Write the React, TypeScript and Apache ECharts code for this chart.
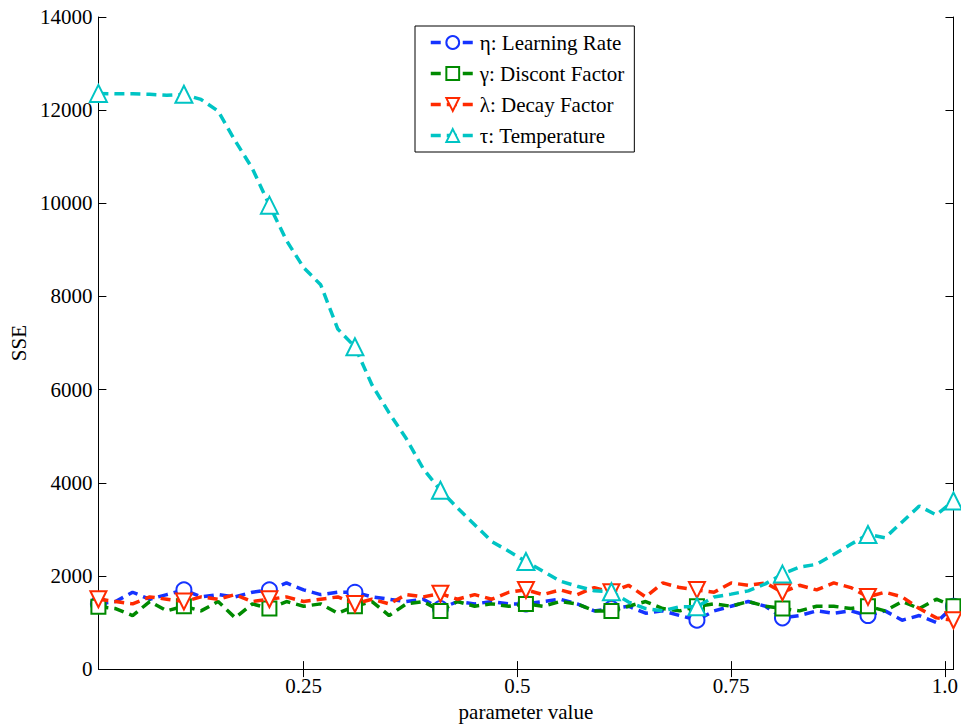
import React, { useEffect, useRef } from "react";
import * as echarts from "echarts";

const xValues = [
  0.01, 0.03, 0.05, 0.07, 0.09, 0.11, 0.13, 0.15, 0.17, 0.19,
  0.21, 0.23, 0.25, 0.27, 0.29, 0.31, 0.33, 0.35, 0.37, 0.39,
  0.41, 0.43, 0.45, 0.47, 0.49, 0.51, 0.53, 0.55, 0.57, 0.59,
  0.61, 0.63, 0.65, 0.67, 0.69, 0.71, 0.73, 0.75, 0.77, 0.79,
  0.81, 0.83, 0.85, 0.87, 0.89, 0.91, 0.93, 0.95, 0.97, 0.99, 1.01,
];

const etaValues = [
  1400, 1450, 1650, 1500, 1600, 1700, 1550, 1600, 1550, 1650,
  1700, 1850, 1700, 1600, 1650, 1650, 1550, 1500, 1450, 1500,
  1300, 1450, 1400, 1450, 1400, 1400, 1450, 1500, 1400, 1250,
  1300, 1350, 1200, 1250, 1150, 1050, 1250, 1350, 1450, 1350,
  1100, 1150, 1250, 1200, 1250, 1150, 1250, 1050, 1150, 1000, 1350,
];

const gammaValues = [
  1340, 1300, 1150, 1450, 1250, 1350, 1250, 1450, 1100, 1400,
  1300, 1450, 1350, 1400, 1200, 1350, 1450, 1150, 1400, 1450,
  1250, 1450, 1350, 1400, 1350, 1400, 1350, 1450, 1400, 1250,
  1250, 1350, 1450, 1300, 1250, 1350, 1400, 1350, 1450, 1350,
  1300, 1250, 1350, 1350, 1300, 1350, 1250, 1450, 1300, 1500, 1350,
];

const lambdaValues = [
  1500, 1450, 1400, 1550, 1500, 1450, 1550, 1500, 1600, 1450,
  1500, 1550, 1450, 1500, 1550, 1400, 1500, 1400, 1600, 1550,
  1620, 1500, 1600, 1500, 1650, 1700, 1600, 1700, 1600, 1750,
  1650, 1800, 1550, 1850, 1750, 1700, 1650, 1850, 1800, 1850,
  1650, 1800, 1700, 1850, 1750, 1550, 1650, 1550, 1300, 1100, 1050,
];

const tauValues = [
  12360, 12350, 12350, 12340, 12320, 12340, 12230, 11980, 11340, 10750,
  9960, 9200, 8620, 8250, 7300, 6920, 6100, 5500, 4950, 4300,
  3840, 3460, 3100, 2740, 2530, 2310, 2100, 1890, 1780, 1680,
  1660, 1440, 1300, 1250, 1340, 1340, 1550, 1610, 1680, 1830,
  2040, 2190, 2250, 2460, 2680, 2890, 2820, 3160, 3500, 3310, 3610,
];

const seriesNames = [
  "η: Learning Rate",
  "γ: Discont Factor",
  "λ: Decay Factor",
  "τ: Temperature",
];

const xTickValues = [0.25, 0.5, 0.75, 1.0];
const xTickLabels = ["0.25", "0.5", "0.75", "1.0"];

const FONT = "'Liberation Serif', 'Times New Roman', Times, serif";
const FS = 21;

export default function App() {
  const ref = useRef<HTMLDivElement>(null);

  useEffect(() => {
    if (!ref.current) return;
    const chart = echarts.init(ref.current, null, { renderer: "svg" });

    const mk = (vals: number[]) =>
      vals.map((v, i) =>
        i % 5 === 0
          ? { value: [xValues[i], v] }
          : { value: [xValues[i], v], symbol: "none" }
      );

    const colors = ["#1533ff", "#008a00", "#ff2a00", "#00c4c4"];
    const symbols = ["emptyCircle", "emptyRect", "emptyTriangle", "emptyTriangle"];
    const rotates = [0, 0, 180, 0];
    const sizes = [15, 14, 16, 17];
    const allVals = [etaValues, gammaValues, lambdaValues, tauValues];

    const series = allVals.map((vals, k) => ({
      name: seriesNames[k],
      type: "line",
      data: mk(vals),
      symbol: symbols[k],
      symbolSize: sizes[k],
      symbolRotate: rotates[k],
      showAllSymbol: true,
      lineStyle: { color: colors[k], width: 3.5, type: [10, 6] },
      itemStyle: { color: colors[k], borderColor: colors[k], borderWidth: 3 },
      emphasis: { disabled: true },
      z: 2 + k,
    }));

    const xFormatter = (v: number) => {
      const idx = xTickValues.findIndex((t) => Math.abs(t - v) < 1e-6);
      return idx >= 0 ? xTickLabels[idx] : "";
    };

    chart.setOption({
      animation: false,
      backgroundColor: "#ffffff",
      textStyle: { fontFamily: FONT, color: "#000" },
      grid: { left: 95, top: 17, right: 6, bottom: 51, containLabel: false },
      legend: {
        left: 415,
        top: 26,
        orient: "vertical",
        backgroundColor: "#ffffff",
        borderColor: "#000",
        borderWidth: 1,
        padding: [6, 10, 6, 14],
        itemWidth: 44,
        itemHeight: 16,
        itemGap: 10,
        lineStyle: { width: 3.5 },
        itemStyle: { borderWidth: 3 },
        textStyle: { fontFamily: FONT, fontSize: FS, color: "#000", lineHeight: 21 },
        data: seriesNames,
      },
      xAxis: [
        {
          type: "value",
          min: 0.01,
          max: 1.01,
          position: "bottom",
          name: "parameter value",
          nameLocation: "middle",
          nameGap: 28,
          nameTextStyle: { fontFamily: FONT, fontSize: FS, color: "#000" },
          axisLine: { show: true, lineStyle: { color: "#000", width: 1 } },
          axisTick: {
            show: true,
            inside: true,
            length: 8,
            customValues: xTickValues,
            lineStyle: { color: "#000" },
          },
          axisLabel: {
            show: true,
            customValues: xTickValues,
            formatter: xFormatter,
            fontFamily: FONT,
            fontSize: FS,
            color: "#000",
            margin: 6,
          },
          splitLine: { show: false },
        },
        {
          type: "value",
          min: 0.01,
          max: 1.01,
          position: "top",
          axisLine: { show: true, lineStyle: { color: "#000", width: 1 } },
          axisTick: {
            show: true,
            inside: true,
            length: 8,
            customValues: xTickValues,
            lineStyle: { color: "#000" },
          },
          axisLabel: { show: false },
          splitLine: { show: false },
        },
      ],
      yAxis: [
        {
          type: "value",
          min: 0,
          max: 14000,
          interval: 2000,
          position: "left",
          name: "SSE",
          nameLocation: "middle",
          nameGap: 66,
          nameTextStyle: { fontFamily: FONT, fontSize: FS, color: "#000" },
          axisLine: { show: true, lineStyle: { color: "#000", width: 1 } },
          axisTick: { show: true, inside: true, length: 8, lineStyle: { color: "#000" } },
          axisLabel: {
            fontFamily: FONT,
            fontSize: FS,
            color: "#000",
            margin: 6,
            formatter: (v: number) => String(v),
          },
          splitLine: { show: false },
        },
        {
          type: "value",
          min: 0,
          max: 14000,
          interval: 2000,
          position: "right",
          axisLine: { show: true, lineStyle: { color: "#000", width: 1 } },
          axisTick: { show: true, inside: true, length: 8, lineStyle: { color: "#000" } },
          axisLabel: { show: false },
          splitLine: { show: false },
        },
      ],
      series,
    });

    return () => {
      chart.dispose();
    };
  }, []);

  return (
    <div
      ref={ref}
      style={{ position: "fixed", left: 0, top: 0, width: 961, height: 727, background: "#fff" }}
    />
  );
}
